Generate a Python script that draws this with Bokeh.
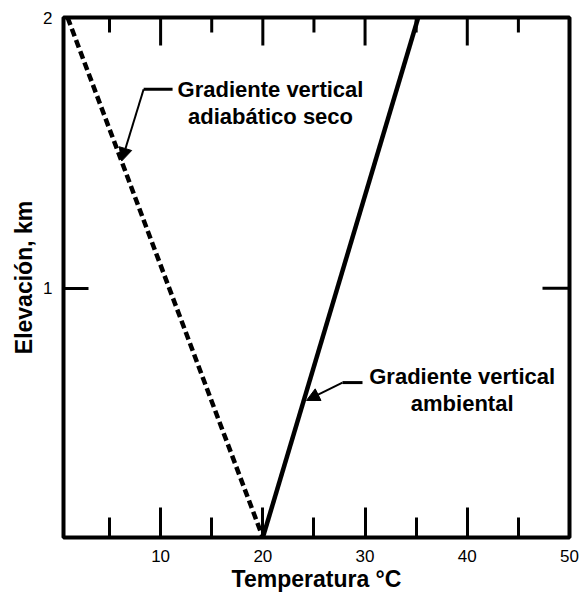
import math
from bokeh.plotting import figure
from bokeh.models import FixedTicker, Arrow, NormalHead, Range1d
from bokeh.core.properties import value
from bokeh.embed import file_html
from bokeh.resources import INLINE

# ---- data ----
temp_dry = [0.9, 20.0]          # dry adiabatic lapse rate (dashed)
elev_dry = [2.0, 0.08]
temp_env = [20.0, 35.2]         # environmental lapse rate (solid)
elev_env = [0.08, 2.0]
x_major = [10, 20, 30, 40, 50]
x_minor = [5, 15, 25, 35, 45]
y_major = [1, 2]
y_right = [1]

label_dry = ["Gradiente vertical", "adiabático seco"]
label_env = ["Gradiente vertical", "ambiental"]

X_START, X_END = 0.5, 50
Y_START, Y_END = 0.08, 2

# annotation anchors (data units)
dry_text_x = [20.75, 20.75]
dry_text_y = [1.735, 1.635]
env_text_x = [39.5, 39.5]
env_text_y = [0.674, 0.575]
dry_leader_x = [11.17, 8.34]
dry_leader_y = [1.735, 1.735]
dry_tip = (6.19, 1.47)
env_leader_x = [29.75, 27.79]
env_leader_y = [0.652, 0.652]
env_tip = (24.27, 0.586)

FONT = "Liberation Sans"

p = figure(width=586, height=598, x_range=Range1d(X_START, X_END), y_range=Range1d(Y_START, Y_END),
           output_backend="svg", toolbar_location=None,
           min_border_left=63, min_border_right=17, min_border_top=17, min_border_bottom=61)
p.background_fill_color = "white"
p.border_fill_color = "white"
p.xgrid.visible = False
p.ygrid.visible = False
p.outline_line_color = "black"
p.outline_line_width = 4
p.outline_line_alpha = 1.0

# bottom axis
xa = p.xaxis[0]
xa.ticker = FixedTicker(ticks=x_major, minor_ticks=x_minor)
xa.axis_line_color = None
xa.major_tick_in = 30
xa.major_tick_out = 0
xa.minor_tick_in = 20
xa.minor_tick_out = 0
xa.major_tick_line_width = 3
xa.minor_tick_line_width = 3
xa.major_label_text_font = FONT
xa.major_label_text_font_size = "17px"
xa.major_label_text_color = "black"
xa.major_label_standoff = 12
xa.axis_label = "Temperatura °C"
xa.axis_label_text_font = FONT
xa.axis_label_text_font_style = "bold"
xa.axis_label_text_font_size = "23px"
xa.axis_label_text_color = "black"
xa.axis_label_standoff = 1

# left axis
ya = p.yaxis[0]
ya.ticker = FixedTicker(ticks=y_major, minor_ticks=[])
ya.axis_line_color = None
ya.major_tick_in = 25
ya.major_tick_out = 0
ya.minor_tick_in = 0
ya.minor_tick_out = 0
ya.major_tick_line_width = 3
ya.major_label_text_font = FONT
ya.major_label_text_font_size = "17px"
ya.major_label_text_color = "black"
ya.major_label_standoff = 11
ya.axis_label = "Elevación, km"
ya.axis_label_text_font = FONT
ya.axis_label_text_font_style = "bold"
ya.axis_label_text_font_size = "23px"
ya.axis_label_text_color = "black"
ya.axis_label_standoff = 3

# top ticks (inward): vertical dashes centred on the top edge, clipped by the frame
p.scatter(x=x_major, y=[Y_END] * len(x_major), marker="dash", angle=math.pi / 2,
          size=56, line_width=3, line_color="black")
p.scatter(x=x_minor, y=[Y_END] * len(x_minor), marker="dash", angle=math.pi / 2,
          size=30, line_width=3, line_color="black")
# right ticks (inward)
p.scatter(x=[X_END] * len(y_right), y=y_right, marker="dash", angle=0,
          size=54, line_width=3, line_color="black")

# lines
p.line(temp_dry, elev_dry, line_color="black", line_width=4.5, line_dash="8 4")
p.line(temp_env, elev_env, line_color="black", line_width=4.5)

# annotations
p.text(x=dry_text_x, y=dry_text_y, text=label_dry, text_font=value(FONT),
       text_font_style="bold", text_font_size="22px", text_align="center",
       text_baseline="alphabetic", text_color="black")
p.text(x=env_text_x, y=env_text_y, text=label_env, text_font=value(FONT),
       text_font_style="bold", text_font_size="22px", text_align="center",
       text_baseline="alphabetic", text_color="black")

p.line(dry_leader_x, dry_leader_y, line_color="black", line_width=3)
p.line(env_leader_x, env_leader_y, line_color="black", line_width=3)
p.add_layout(Arrow(end=NormalHead(size=13, fill_color="black", line_color="black"),
                   x_start=dry_leader_x[-1], y_start=dry_leader_y[-1],
                   x_end=dry_tip[0], y_end=dry_tip[1],
                   line_color="black", line_width=2))
p.add_layout(Arrow(end=NormalHead(size=13, fill_color="black", line_color="black"),
                   x_start=env_leader_x[-1], y_start=env_leader_y[-1],
                   x_end=env_tip[0], y_end=env_tip[1],
                   line_color="black", line_width=2))

open("out.html", "w").write(file_html(p, INLINE))
